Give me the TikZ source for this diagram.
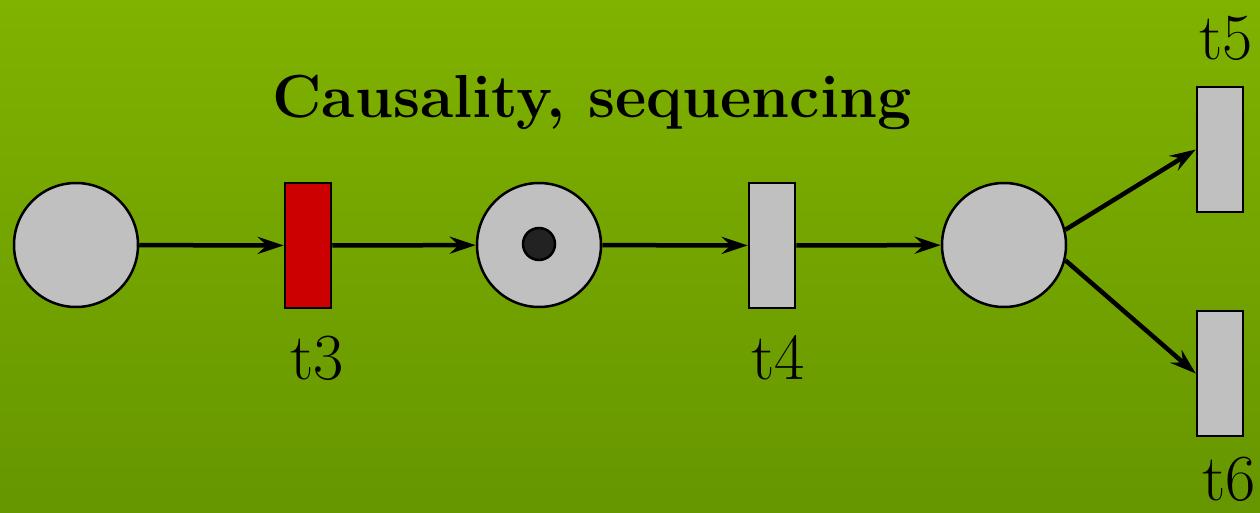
\documentclass[tikz,border=0pt]{standalone}
\usetikzlibrary{arrows.meta}
\definecolor{bgtop}{RGB}{128,178,0}
\definecolor{bgbot}{RGB}{102,150,0}
\definecolor{placegray}{RGB}{192,192,192}
\definecolor{firered}{RGB}{204,0,0}
\definecolor{tokendark}{RGB}{34,34,34}
\tikzset{
  place/.style={circle, draw=black, line width=2.5bp, fill=placegray, minimum size=124bp, inner sep=0pt},
  trans/.style={rectangle, draw=black, line width=2.5bp, fill=placegray, minimum width=46bp, minimum height=125bp, inner sep=0pt},
  firing/.style={trans, fill=firered},
  tok/.style={circle, draw=black, line width=2.5bp, fill=tokendark, minimum size=32bp, inner sep=0pt},
  arc/.style={line width=4.5bp, -{Stealth[length=26bp, width=17bp, inset=9bp]}},
  lbl/.style={anchor=base, font=\fontsize{66}{72}\selectfont, inner sep=0pt},
  ttl/.style={anchor=base, font=\fontsize{61}{66}\selectfont\bfseries, inner sep=0pt}
}
\begin{document}
\begin{tikzpicture}[x=1bp, y=-1bp]
\shade[top color=bgtop, bottom color=bgbot] (0,0) rectangle (1260,513);
\useasboundingbox (0,0) rectangle (1260,513);
\node[ttl] (title) at (592,118) {Causality, sequencing};
\node[place] (p1) at (76,245) {};
\node[firing] (t3) at (308,245.5) {};
\node[place] (p2) at (539,245) {};
\node[tok] (tk) at (539,244) {};
\node[trans] (t4) at (772,245.5) {};
\node[place] (p3) at (1004,245) {};
\node[trans] (t5) at (1220,149.5) {};
\node[trans] (t6) at (1220,373.5) {};
\node[lbl] (l3) at (317,380) {t3};
\node[lbl] (l4) at (778,380) {t4};
\node[lbl] (l5) at (1226,60) {t5};
\node[lbl] (l6) at (1229,500) {t6};
\draw[arc] (p1) -- (t3);
\draw[arc] (t3) -- (p2);
\draw[arc] (p2) -- (t4);
\draw[arc] (t4) -- (p3);
\draw[arc] (p3.14) -- (t5.west);
\draw[arc] (p3.-14) -- (t6.west);
\end{tikzpicture}
\end{document}
